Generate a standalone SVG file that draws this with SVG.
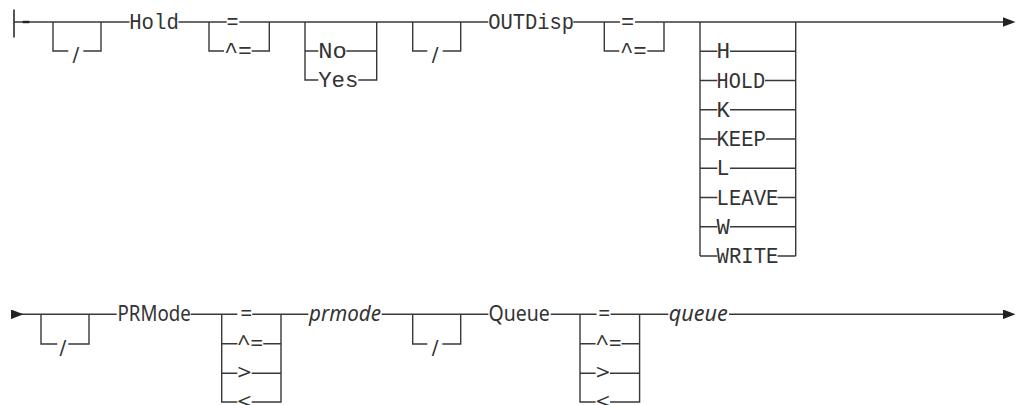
<svg xmlns="http://www.w3.org/2000/svg" width="1017" height="405" viewBox="0 0 1017 405">
<defs>
<style>
.ln{fill:none;stroke:#383838;stroke-width:1.4}
.m{font-family:"Liberation Mono","DejaVu Sans Mono",monospace;font-size:22.5px;fill:#333}
.p{font-family:"Noto Sans","Open Sans","Liberation Sans",sans-serif;font-size:21px;fill:#333}
.i{font-style:italic}
.sl{font-family:"DejaVu Sans","Liberation Sans",sans-serif;font-size:20px;fill:#333}
</style>
<marker id="arrow" markerUnits="userSpaceOnUse" viewBox="0 0 13 10" refX="0" refY="5" markerWidth="13" markerHeight="9.6" orient="auto">
<path d="M0,0 L13,5 L0,10 Z" fill="#222"/>
</marker>
</defs>
<rect width="1017" height="405" fill="#fff"/>
<g id="connectors">
<path d="M14,9.5 V37.5" fill="none" stroke="#555" stroke-width="2"/>
<path class="ln" d="M14,22 H129.5"/>
<path d="M22.7,22 H29.3" stroke="#222" stroke-width="2.4"/>
<path class="ln" d="M53,22 V51 H68.3 M83.3,51 H101 V22"/>
<path class="ln" d="M178.4,22 H226.7"/>
<path class="ln" d="M239.3,22 H488.3"/>
<path class="ln" d="M573.3,22 H620"/>
<path class="ln" d="M635,22 H1003" marker-end="url(#arrow)"/>
<path class="ln" d="M209,22 V51 H224 M251.7,51 H269.3 V22"/>
<path class="ln" d="M305,22 V80 H318.3 M305,51 H318.3 M346.3,51 H376.7 M358.3,80 H376.7 V22"/>
<path class="ln" d="M412.7,22 V51 H427.3 M442.7,51 H460.7 V22"/>
<path class="ln" d="M604.3,22 V51 H619.3 M647.3,51 H664 V22"/>
<path class="ln" d="M700,22 V256 M795.7,22 V256"/>
<path class="ln" d="M700,51.3 H717.3 M730,51.3 H795.7"/>
<path class="ln" d="M700,80.5 H717.3 M765,80.5 H795.7"/>
<path class="ln" d="M700,109.8 H717.3 M730,109.8 H795.7"/>
<path class="ln" d="M700,139 H717.3 M766,139 H795.7"/>
<path class="ln" d="M700,168.3 H717.3 M730,168.3 H795.7"/>
<path class="ln" d="M700,197.5 H717.3 M777.5,197.5 H795.7"/>
<path class="ln" d="M700,226.8 H717.3 M730,226.8 H795.7"/>
<path class="ln" d="M700,256 H717.3 M777.5,256 H795.7"/>
<path class="ln" d="M11,314.3 H116.7" marker-start="url(#arrow)"/>
<path class="ln" d="M41,314.3 V344 H57.3 M68.3,344 H89 V314.3"/>
<path class="ln" d="M190.7,314.3 H237.3"/>
<path class="ln" d="M252.3,314.3 H308.3"/>
<path class="ln" d="M381.7,314.3 H488.3"/>
<path class="ln" d="M550.7,314.3 H596.6"/>
<path class="ln" d="M610.6,314.3 H668.3"/>
<path class="ln" d="M729,314.3 H1003" marker-end="url(#arrow)"/>
<path class="ln" d="M221.7,314.3 V402 H237.3 M221.7,343.8 H237.3 M221.7,373.3 H237.3 M263.3,343.8 H281 M251.7,373.3 H281 M251.7,402 H281 V314.3"/>
<path class="ln" d="M580,314.3 V402 H595.6 M580,343.8 H595.6 M580,373.3 H595.6 M621.6,343.8 H639.6 M610,373.3 H639.6 M610,402 H639.6 V314.3"/>
<path class="ln" d="M412.7,314.3 V344 H427.3 M442.3,344 H460.7 V314.3"/>
</g>
<g id="slash1"><text class="sl" x="75.8" y="60.5" text-anchor="middle">/</text></g>
<g id="hold"><text class="m" x="129.2" y="29" textLength="49.6" lengthAdjust="spacingAndGlyphs">Hold</text></g>
<g id="eq1"><text class="m" x="226.5" y="29" textLength="12" lengthAdjust="spacingAndGlyphs">=</text></g>
<g id="neq1"><text class="m" x="224.2" y="58" textLength="27.6" lengthAdjust="spacingAndGlyphs">^=</text></g>
<g id="no"><text class="m" x="318.2" y="58" textLength="28.6" lengthAdjust="spacingAndGlyphs">No</text></g>
<g id="yes"><text class="m" x="318.2" y="87" textLength="40.3" lengthAdjust="spacingAndGlyphs">Yes</text></g>
<g id="slash2"><text class="sl" x="435" y="60.5" text-anchor="middle">/</text></g>
<g id="outdisp"><text class="m" x="488.2" y="29" textLength="85.9" lengthAdjust="spacingAndGlyphs">OUTDisp</text></g>
<g id="eq2"><text class="m" x="620.9" y="29" textLength="13.2" lengthAdjust="spacingAndGlyphs">=</text></g>
<g id="neq2"><text class="m" x="619.9" y="58" textLength="26.9" lengthAdjust="spacingAndGlyphs">^=</text></g>
<g id="opt-h"><text class="m" x="716.5" y="58.3" textLength="13.6" lengthAdjust="spacingAndGlyphs">H</text></g>
<g id="opt-hold"><text class="m" x="716.5" y="87.5" textLength="48.6" lengthAdjust="spacingAndGlyphs">HOLD</text></g>
<g id="opt-k"><text class="m" x="716.5" y="116.8" textLength="13.3" lengthAdjust="spacingAndGlyphs">K</text></g>
<g id="opt-keep"><text class="m" x="716.5" y="146" textLength="49.3" lengthAdjust="spacingAndGlyphs">KEEP</text></g>
<g id="opt-l"><text class="m" x="716.5" y="175.3" textLength="13" lengthAdjust="spacingAndGlyphs">L</text></g>
<g id="opt-leave"><text class="m" x="716.5" y="204.5" textLength="62" lengthAdjust="spacingAndGlyphs">LEAVE</text></g>
<g id="opt-w"><text class="m" x="716.5" y="233.8" textLength="13.3" lengthAdjust="spacingAndGlyphs">W</text></g>
<g id="opt-write"><text class="m" x="716.5" y="263" textLength="62" lengthAdjust="spacingAndGlyphs">WRITE</text></g>
<g id="slash3"><text class="sl" x="62.8" y="353.5" text-anchor="middle">/</text></g>
<g id="prmode-kw"><text class="p" x="117.5" y="321.3" textLength="73.3" lengthAdjust="spacingAndGlyphs">PRMode</text></g>
<g id="eq3"><text class="p" x="240.2" y="321.3" textLength="12" lengthAdjust="spacingAndGlyphs">=</text></g>
<g id="neq3"><text class="p" x="237.2" y="350.8" textLength="26" lengthAdjust="spacingAndGlyphs">^=</text></g>
<g id="gt3"><text class="p" x="237.2" y="380.3" textLength="14.3" lengthAdjust="spacingAndGlyphs">&gt;</text></g>
<g id="lt3"><text class="p" x="237.2" y="409" textLength="14.3" lengthAdjust="spacingAndGlyphs">&lt;</text></g>
<g id="prmode-var"><text class="p i" x="309" y="321.3" textLength="72" lengthAdjust="spacingAndGlyphs">prmode</text></g>
<g id="slash4"><text class="sl" x="435.2" y="353.5" text-anchor="middle">/</text></g>
<g id="queue-kw"><text class="p" x="488.5" y="321.3" textLength="61.3" lengthAdjust="spacingAndGlyphs">Queue</text></g>
<g id="eq4"><text class="p" x="598.3" y="321.3" textLength="12" lengthAdjust="spacingAndGlyphs">=</text></g>
<g id="neq4"><text class="p" x="595.8" y="350.8" textLength="26" lengthAdjust="spacingAndGlyphs">^=</text></g>
<g id="gt4"><text class="p" x="595.8" y="380.3" textLength="14.3" lengthAdjust="spacingAndGlyphs">&gt;</text></g>
<g id="lt4"><text class="p" x="595.8" y="409" textLength="14.3" lengthAdjust="spacingAndGlyphs">&lt;</text></g>
<g id="queue-var"><text class="p i" x="668.8" y="321.3" textLength="59" lengthAdjust="spacingAndGlyphs">queue</text></g>
</svg>
